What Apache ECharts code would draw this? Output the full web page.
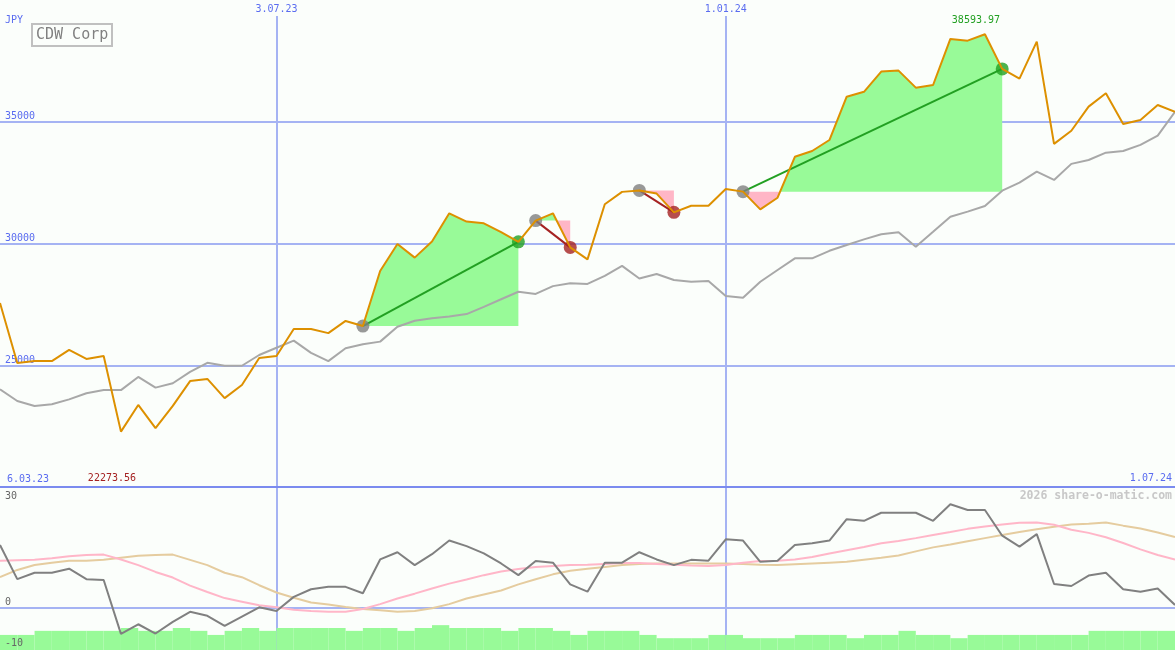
<!DOCTYPE html>
<html>
<head>
<meta charset="utf-8">
<script src="https://cdn.jsdelivr.net/npm/echarts@6/dist/echarts.min.js"></script>
<style>
html,body{margin:0;padding:0;background:#fbfefb;}
#chart{width:1175px;height:650px;}
</style>
</head>
<body>
<div id="chart"></div>
<script>
// ---- data ----
const dates = ['13.03.23','20.03.23','27.03.23','3.04.23','10.04.23','17.04.23','24.04.23','1.05.23','8.05.23','15.05.23',
'22.05.23','29.05.23','5.06.23','12.06.23','19.06.23','26.06.23','3.07.23','10.07.23','17.07.23','24.07.23',
'31.07.23','7.08.23','14.08.23','21.08.23','28.08.23','4.09.23','11.09.23','18.09.23','25.09.23','2.10.23',
'9.10.23','16.10.23','23.10.23','30.10.23','6.11.23','13.11.23','20.11.23','27.11.23','4.12.23','11.12.23',
'18.12.23','25.12.23','1.01.24','8.01.24','15.01.24','22.01.24','29.01.24','5.02.24','12.02.24','19.02.24',
'26.02.24','4.03.24','11.03.24','18.03.24','25.03.24','1.04.24','8.04.24','15.04.24','22.04.24','29.04.24',
'6.05.24','13.05.24','20.05.24','27.05.24','3.06.24','10.06.24','17.06.24','24.06.24','1.07.24'];

const price = [27560,25090,25170,25170,25630,25260,25380,22273.56,23370,22420,
23330,24350,24440,23650,24190,25300,25380,26490,26490,26320,
26820,26610,28870,29980,29420,30080,31240,30900,30830,30470,
30070,30940,31240,29840,29350,31610,32120,32180,32050,31280,
31550,31550,32240,32130,31400,31880,33560,33800,34250,36030,
36230,37060,37100,36400,36510,38400,38330,38593.97,37170,36770,
38290,34090,34630,35620,36170,34910,35070,35690,35410];

const benchmark = [24010,23530,23330,23400,23600,23850,23980,23980,24520,24080,
24260,24730,25100,24980,24980,25420,25720,26010,25510,25170,
25700,25860,25970,26580,26830,26930,27000,27100,27400,27710,
28020,27930,28250,28370,28340,28670,29080,28560,28750,28500,
28430,28460,27840,27770,28430,28910,29390,29390,29700,29940,
30170,30380,30460,29870,30480,31100,31310,31540,32170,32500,
32950,32610,33270,33430,33730,33800,34050,34430,35410];

const momentum = [15.6,7.1,8.7,8.7,9.7,7.1,6.9,-6.5,-4.1,-6.4,
-3.5,-1.0,-2.0,-4.5,-2.2,0.1,-0.8,2.7,4.6,5.2,
5.2,3.6,12.0,13.8,10.6,13.3,16.7,15.3,13.5,11.0,
8.1,11.6,11.2,5.8,4.0,11.2,11.2,13.8,12.0,10.6,
11.9,11.7,17.0,16.7,11.4,11.7,15.6,16.0,16.7,22.0,
21.6,23.6,23.6,23.6,21.6,25.7,24.3,24.3,17.9,15.2,
18.3,5.9,5.4,8.0,8.7,4.6,4.0,4.8,0.7];

const avgFast = [11.7,11.8,11.9,12.3,12.8,13.1,13.2,12.0,10.6,8.9,
7.5,5.5,3.9,2.4,1.5,0.6,0.1,-0.5,-0.8,-1.0,
-1.0,-0.3,0.9,2.3,3.5,4.8,6.0,7.0,8.1,9.0,
9.6,10.1,10.4,10.6,10.7,10.9,11.1,11.1,10.9,10.7,
10.5,10.4,10.6,11.2,11.6,11.7,12.0,12.6,13.5,14.3,
15.1,16.0,16.6,17.3,18.1,18.8,19.6,20.2,20.7,21.1,
21.2,20.6,19.4,18.6,17.5,16.1,14.5,13.1,12.0];

const avgSlow = [7.6,9.4,10.6,11.2,11.7,11.7,11.9,12.4,12.9,13.1,
13.2,11.9,10.6,8.7,7.6,5.6,3.8,2.5,1.3,0.8,
0.2,-0.3,-0.6,-1.0,-0.8,-0.1,0.9,2.3,3.3,4.3,
5.8,7.1,8.3,9.2,9.7,10.1,10.6,10.9,11.0,11.0,
11.0,11.0,11.0,10.9,10.7,10.6,10.8,11.0,11.2,11.4,
11.9,12.4,13.0,14.0,15.0,15.7,16.5,17.3,18.1,18.8,
19.5,20.1,20.7,20.9,21.2,20.4,19.7,18.7,17.6];

const volume = [3.7,3.7,4.7,4.7,4.7,4.7,4.7,5.4,4.7,4.7,
5.4,4.7,3.7,4.7,5.4,4.7,5.4,5.4,5.4,5.4,
4.7,5.4,5.4,4.7,5.4,6.1,5.4,5.4,5.4,4.7,
5.4,5.4,4.7,3.7,4.7,4.7,4.7,3.7,2.9,2.9,
2.9,3.7,3.7,2.9,2.9,2.9,3.7,3.7,3.7,2.9,
3.7,3.7,4.7,3.7,3.7,2.9,3.7,3.7,3.7,3.7,
3.7,3.7,3.7,4.7,4.7,4.7,4.7,4.7];

const trades = [
  {entry: 21, exit: 30},
  {entry: 31, exit: 33},
  {entry: 37, exit: 39},
  {entry: 43, exit: 58}
];

const gridDates = ['3.07.23', '1.01.24'];
const priceTicks = [25000, 30000, 35000];
const lowerTopTicks = [30];
const lowerTicks = [0, -10];
const periodLabels = ['6.03.23', '1.07.24'];
const currency = 'JPY';
const company = 'CDW Corp';
const watermark = '2026 share-o-matic.com';

// ---- styles ----
const FONT = 'DejaVu Sans Mono';
const BLUE_TEXT = '#5a6cf0';
const GRID_BLUE = '#a5b3f3';
const BORDER_BLUE = '#7b8bef';
const PROFIT = '#22a022';
const LOSS = '#a52222';
const PROFIT_FILL = '#98fa98';
const LOSS_FILL = '#ffb6c6';

function renderTradeFill(params, api) {
  const tr = trades[api.value(2)];
  const base = price[tr.entry];
  const pts = [];
  for (let j = tr.entry; j <= tr.exit; j++) {
    const a = api.coord([j, price[j]]);
    pts.push(a);
    if (j < tr.exit) {
      const d1 = price[j] - base, d2 = price[j + 1] - base;
      if ((d1 > 0 && d2 < 0) || (d1 < 0 && d2 > 0)) {
        const b = api.coord([j + 1, price[j + 1]]);
        const f = d1 / (d1 - d2);
        pts.push([a[0] + f * (b[0] - a[0]), a[1] + f * (b[1] - a[1])]);
      }
    }
  }
  const by = api.coord([tr.entry, base])[1];
  const x0 = pts[0][0], x1 = pts[pts.length - 1][0];
  const upper = pts.map(p => [p[0], Math.min(p[1], by)]).concat([[x1, by], [x0, by]]);
  const lower = pts.map(p => [p[0], Math.max(p[1], by)]).concat([[x1, by], [x0, by]]);
  return {type: 'group', children: [
    {type: 'polygon', shape: {points: upper}, style: {fill: PROFIT_FILL}},
    {type: 'polygon', shape: {points: lower}, style: {fill: LOSS_FILL}}
  ]};
}

function renderTradeLine(params, api) {
  const tr = trades[api.value(2)];
  const a = api.coord([tr.entry, price[tr.entry]]);
  const b = api.coord([tr.exit, price[tr.exit]]);
  const win = price[tr.exit] > price[tr.entry];
  return {type: 'line', shape: {x1: a[0], y1: a[1], x2: b[0], y2: b[1]},
    style: {stroke: win ? PROFIT : LOSS, lineWidth: 2}};
}

const tradeItems = trades.map((t, k) => [t.entry, price[t.entry], k]);
const dots = [];
trades.forEach(t => {
  dots.push({value: [t.entry, price[t.entry]], itemStyle: {color: '#808080'}});
  dots.push({value: [t.exit, price[t.exit]], itemStyle: {color: price[t.exit] > price[t.entry] ? PROFIT : LOSS}});
});

const chart = echarts.init(document.getElementById('chart'), null, {renderer: 'canvas'});
const clear = 'rgba(0,0,0,0)';

chart.setOption({
  animation: false,
  backgroundColor: '#fbfefb',
  title: {
    text: company, left: 32, top: 24,
    borderColor: '#c0c0c0', borderWidth: 2, padding: [4, 4, 3, 4],
    textStyle: {fontFamily: FONT, fontSize: 15, fontWeight: 'normal', color: '#808080'}
  },
  graphic: [
    {type: 'text', left: 5, top: 15, style: {text: currency, font: '10px ' + FONT, fill: BLUE_TEXT}},
    {type: 'text', left: 7, top: 474, style: {text: periodLabels[0], font: '10px ' + FONT, fill: BLUE_TEXT}},
    {type: 'text', right: 3, top: 473, style: {text: periodLabels[1], font: '10px ' + FONT, fill: BLUE_TEXT}},
    {type: 'text', right: 3, top: 490, style: {text: watermark, font: 'bold 11.5px ' + FONT, fill: '#c8c8c8'}}
  ],
  grid: [
    {left: 0, right: 0, top: 16, bottom: 0},
    {left: 0, right: 0, top: 0, height: 487},
    {left: 0, right: 0, top: 487, height: 161},
    {left: 0, right: 0, top: 487, height: 163}
  ],
  xAxis: [
    {gridIndex: 0, type: 'category', data: dates, boundaryGap: false, position: 'top',
      axisLine: {show: false}, axisTick: {show: false},
      axisLabel: {interval: (i, v) => gridDates.includes(v), margin: 2,
        color: BLUE_TEXT, fontFamily: FONT, fontSize: 10},
      splitLine: {show: true, interval: (i, v) => gridDates.includes(v),
        lineStyle: {color: GRID_BLUE, width: 2}}},
    {gridIndex: 1, type: 'category', data: dates, boundaryGap: false,
      axisLine: {show: true, onZero: false, lineStyle: {color: BORDER_BLUE, width: 2}},
      axisTick: {show: false}, axisLabel: {show: false}, splitLine: {show: false}},
    {gridIndex: 2, type: 'category', data: dates, boundaryGap: false,
      axisLine: {show: true, onZero: true, lineStyle: {color: GRID_BLUE, width: 2}},
      axisTick: {show: false}, axisLabel: {show: false}, splitLine: {show: false}},
    {gridIndex: 3, type: 'category', data: dates.slice(0, volume.length), show: false}
  ],
  yAxis: [
    {gridIndex: 0, type: 'value', min: 0, max: 1, show: false},
    {gridIndex: 1, type: 'value', position: 'left', min: 20000, max: 40000, interval: 5000,
      axisLine: {show: false}, axisTick: {show: false},
      axisLabel: {inside: true, margin: 5, verticalAlign: 'bottom',
        formatter: v => priceTicks.includes(v) ? String(v) : '',
        color: BLUE_TEXT, fontFamily: FONT, fontSize: 10},
      splitLine: {show: true, lineStyle: {color: [clear, GRID_BLUE, GRID_BLUE, GRID_BLUE, clear], width: 2}}},
    {gridIndex: 2, type: 'value', position: 'left', offset: 0, min: -10, max: 30, interval: 10, z: 10,
      axisLine: {show: false}, axisTick: {show: false}, splitLine: {show: false},
      axisLabel: {inside: true, margin: 5, verticalAlign: 'top', padding: [4, 0, 0, 0],
        showMinLabel: true, showMaxLabel: true,
        formatter: v => lowerTopTicks.includes(v) ? String(v) : '',
        color: '#666666', fontFamily: FONT, fontSize: 10}},
    {gridIndex: 2, type: 'value', position: 'left', offset: 0, min: -10, max: 30, interval: 10, z: 10,
      axisLine: {show: false}, axisTick: {show: false}, splitLine: {show: false},
      axisLabel: {inside: true, margin: 5, verticalAlign: 'bottom',
        showMinLabel: true, showMaxLabel: true,
        formatter: v => lowerTicks.includes(v) ? String(v) : '',
        color: '#666666', fontFamily: FONT, fontSize: 10}},
    {gridIndex: 3, type: 'value', min: 0, max: 40, show: false}
  ],
  series: [
    {name: 'tradeFill', type: 'custom', xAxisIndex: 1, yAxisIndex: 1, z: 1,
      renderItem: renderTradeFill, data: tradeItems, encode: {x: 0, y: 1}, silent: true},
    {name: 'benchmark', type: 'line', xAxisIndex: 1, yAxisIndex: 1, data: benchmark, z: 2,
      symbol: 'none', lineStyle: {color: '#a8a8a8', width: 2}},
    {name: 'tradeLine', type: 'custom', xAxisIndex: 1, yAxisIndex: 1, z: 3,
      renderItem: renderTradeLine, data: tradeItems, encode: {x: 0, y: 1}, silent: true},
    {name: 'tradeDots', type: 'scatter', xAxisIndex: 1, yAxisIndex: 1, z: 4,
      symbolSize: 13, data: dots},
    {name: company, type: 'line', xAxisIndex: 1, yAxisIndex: 1, data: price, z: 5,
      symbol: 'none', lineStyle: {color: '#dd9000', width: 2},
      markPoint: {
        symbol: 'circle', symbolSize: 1, itemStyle: {color: clear},
        data: [
          {type: 'max', label: {offset: [-9, -14], color: PROFIT}},
          {type: 'min', label: {offset: [-9, 47], color: LOSS}}
        ],
        label: {show: true, position: 'inside', fontFamily: FONT, fontSize: 10,
          formatter: p => Number(p.value).toFixed(2)}
      }},
    {name: 'volume', type: 'bar', xAxisIndex: 3, yAxisIndex: 4, data: volume, z: 1,
      barCategoryGap: '0%', itemStyle: {color: PROFIT_FILL}},
    {name: 'avgSlow', type: 'line', xAxisIndex: 2, yAxisIndex: 2, data: avgSlow, z: 2,
      symbol: 'none', lineStyle: {color: '#e5cc9f', width: 2}},
    {name: 'avgFast', type: 'line', xAxisIndex: 2, yAxisIndex: 2, data: avgFast, z: 3,
      symbol: 'none', lineStyle: {color: '#ffb6c8', width: 2}},
    {name: 'momentum', type: 'line', xAxisIndex: 2, yAxisIndex: 2, data: momentum, z: 4,
      symbol: 'none', lineStyle: {color: '#808080', width: 2}}
  ]
});
</script>
</body>
</html>
